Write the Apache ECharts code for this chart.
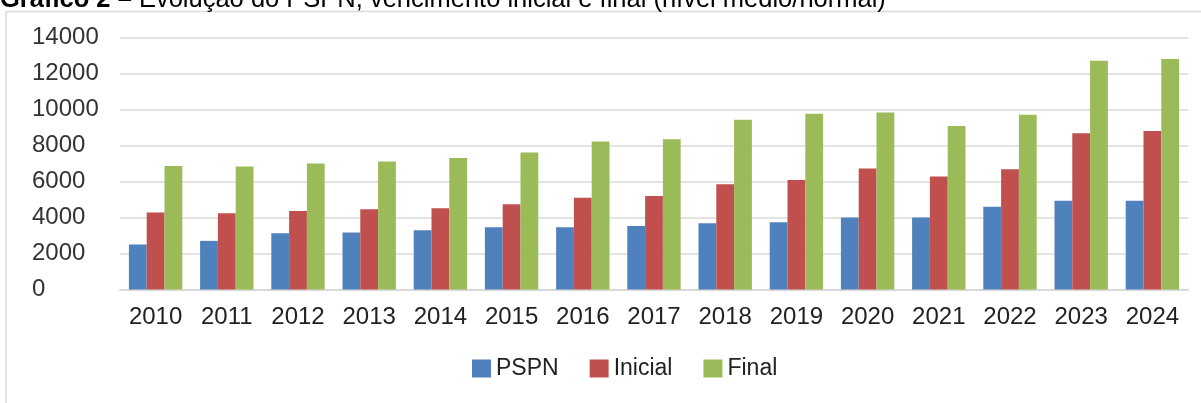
<!DOCTYPE html>
<html>
<head>
<meta charset="utf-8">
<script src="https://cdn.jsdelivr.net/npm/echarts@6/dist/echarts.min.js"></script>
<style>
html,body{margin:0;padding:0;background:#fff;}
#chart{width:1201px;height:403px;}
</style>
</head>
<body>
<div id="chart"></div>
<script>
var categories = ['2010','2011','2012','2013','2014','2015','2016','2017','2018','2019','2020','2021','2022','2023','2024'];
var pspn    = [2500, 2700, 3120, 3160, 3290, 3450, 3450, 3530, 3680, 3730, 4000, 4000, 4600, 4930, 4930];
var inicial = [4270, 4230, 4360, 4450, 4510, 4730, 5100, 5190, 5840, 6080, 6720, 6270, 6680, 8680, 8800];
var final   = [6860, 6830, 6990, 7100, 7300, 7600, 8210, 8340, 9420, 9750, 9830, 9080, 9700, 12700, 12800];
var yTicks = {min: 0, max: 14000, interval: 2000};

var chart = echarts.init(document.getElementById('chart'), null, {renderer: 'canvas'});
var font = 'Liberation Sans, Arial, sans-serif';
chart.setOption({
  animation: false,
  backgroundColor: '#ffffff',
  textStyle: {fontFamily: font},
  graphic: [
    {
      type: 'rect', silent: true,
      shape: {x: 6, y: 11.5, width: 1220, height: 420},
      style: {fill: 'none', stroke: '#d9d9d9', lineWidth: 1.5}
    },
    {
      type: 'text', silent: true,
      style: {
        x: 0, y: 0,
        text: '{b|Gráfico 2 –} Evolução do PSPN, vencimento inicial e final (nível médio/normal)',
        font: '25.5px ' + font,
        fill: '#000',
        textVerticalAlign: 'middle',
        rich: {b: {fontWeight: 'bold', fontSize: 25.5, fontFamily: font, color: '#000'}}
      }
    }
  ],
  legend: {
    data: ['PSPN', 'Inicial', 'Final'],
    left: 467,
    top: 352,
    itemWidth: 19,
    itemHeight: 18,
    itemGap: 31,
    icon: 'rect',
    textStyle: {fontSize: 23, color: '#222', fontFamily: font}
  },
  grid: {left: 120, right: 13, top: 37.3, bottom: 113.5, containLabel: false},
  xAxis: {
    type: 'category',
    data: categories,
    axisTick: {show: false},
    axisLine: {lineStyle: {color: '#d9d9d9', width: 2}},
    axisLabel: {fontSize: 24, color: '#222', margin: 16, fontFamily: font, interval: 0}
  },
  yAxis: {
    type: 'value',
    min: yTicks.min, max: yTicks.max, interval: yTicks.interval,
    axisLine: {show: false},
    axisTick: {show: false},
    splitLine: {lineStyle: {color: '#e3e3e3', width: 2}},
    axisLabel: {fontSize: 24, color: '#333', align: 'left', margin: 88, fontFamily: font,
      formatter: function (v) { return String(v); }}
  },
  series: [
    {name: 'PSPN', type: 'bar', data: pspn, barGap: '0%', barCategoryGap: '25%', itemStyle: {color: '#4f81bd'}},
    {name: 'Inicial', type: 'bar', data: inicial, barGap: '0%', barCategoryGap: '25%', itemStyle: {color: '#c0504d'}},
    {name: 'Final', type: 'bar', data: final, barGap: '0%', barCategoryGap: '25%', itemStyle: {color: '#9bbb59'}}
  ]
});
</script>
</body>
</html>
